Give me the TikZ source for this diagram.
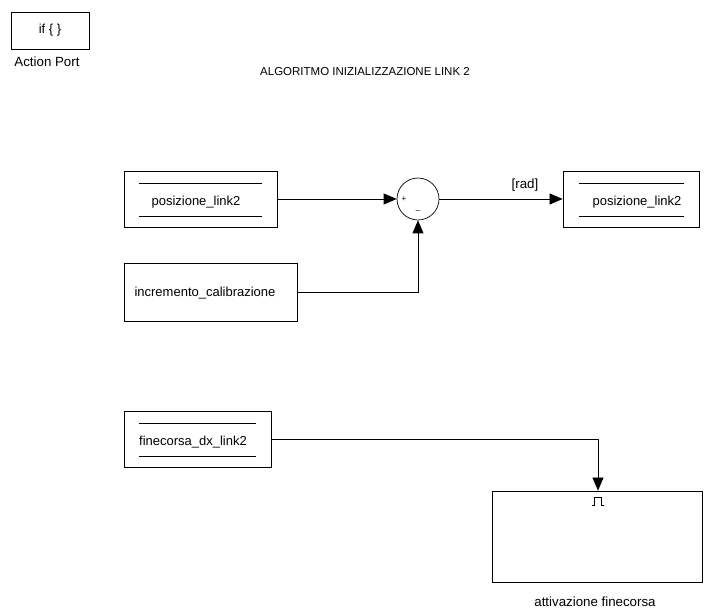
\documentclass[tikz,border=0pt]{standalone}
\usepackage{fontspec}
\setmainfont{Liberation Sans}
\usetikzlibrary{arrows.meta}
\begin{document}
\begin{tikzpicture}[x=1pt,y=-1pt,
  blk/.style={draw, line width=0.8pt, inner sep=0pt},
  lbl/.style={font=\fontsize{13.3}{15}\selectfont, inner sep=0pt},
  ttl/.style={font=\fontsize{11.5}{13}\selectfont, inner sep=0pt},
  btxt/.style={font=\fontsize{13}{15}\selectfont, inner sep=0pt},
  wire/.style={line width=0.7pt},
  sig/.style={wire, -{Triangle[length=13pt,width=11pt]}},
  bar/.style={line width=0.9pt}]
\useasboundingbox (0,0) rectangle (707,609);

% action port block
\node[blk, minimum width=78pt, minimum height=37pt] (ap) at (50,30.5) {};
\node[btxt] (apt) at (ap.center) {if \{ \}};
\node[lbl] (apl) at (47,62) {Action Port};

% title
\node[ttl] (title) at (365,72) {ALGORITMO INIZIALIZZAZIONE LINK 2};

% input block posizione_link2
\node[blk, minimum width=153pt, minimum height=56pt] (in1) at (200.5,199) {};
\draw[bar] (139,183) -- (262,183);
\draw[bar] (139,216) -- (262,216);
\node[btxt] (in1t) at (196,202) {posizione\_link2};

% input block incremento_calibrazione
\node[blk, minimum width=173pt, minimum height=58pt] (in2) at (210.5,292) {};
\node[btxt] (in2t) at (205,293) {incremento\_calibrazione};

% sum block
\node[draw, circle, line width=0.7pt, minimum size=42pt, inner sep=0pt] (sum) at (418,199) {};
\node[font=\fontsize{8}{9}\selectfont, inner sep=0pt] (plus) at (404,199.5) {+};
\node[font=\fontsize{8}{9}\selectfont, inner sep=0pt] (minus) at (418,210) {\_};

% output block posizione_link2
\node[blk, minimum width=136pt, minimum height=56pt] (out1) at (631,199) {};
\draw[bar] (579,183) -- (684,183);
\draw[bar] (579,216) -- (684,216);
\node[btxt] (out1t) at (637,202) {posizione\_link2};

% input block finecorsa_dx_link2
\node[blk, minimum width=147pt, minimum height=56pt] (in3) at (197.5,439) {};
\draw[bar] (139,423) -- (256,423);
\draw[bar] (139,456) -- (256,456);
\node[btxt] (in3t) at (193,442) {finecorsa\_dx\_link2};

% triggered subsystem with rising-edge pulse mark
\node[blk, minimum width=210pt, minimum height=91pt] (trig) at (597,536.5) {};
\coordinate (pulse) at (598,501);
\draw[line width=0.6pt] ([shift={(-6,4)}]pulse) -- ++(2.5,0) -- ++(0,-8) -- ++(7,0) -- ++(0,8) -- ++(2.5,0);
\node[lbl, anchor=base] (trigl) at (595,606) {attivazione finecorsa};

% connectors
\draw[sig] (in1.east) -- (sum.west);
\draw[sig] (in2.east) -| (sum.south);
\draw[sig] (sum.east) -- (out1.west);
\node[lbl] (rad) at (525,185) {[rad]};
\draw[sig] (in3.east) -| (trig.north -| pulse);
\end{tikzpicture}
\end{document}
